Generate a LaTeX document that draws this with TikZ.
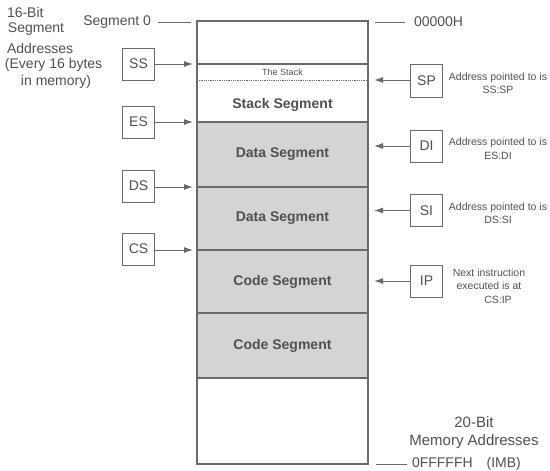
\documentclass[tikz,border=0pt]{standalone}
\usepackage{fontspec}
\setmainfont{Liberation Sans}
\usetikzlibrary{arrows.meta}
\definecolor{ink}{HTML}{505050}
\definecolor{edge}{HTML}{6A6A6A}
\definecolor{shade}{HTML}{D4D4D4}
\begin{document}
\begin{tikzpicture}[x=1pt,y=-1pt,
  every node/.style={text=ink, font=\fontsize{14}{16}\selectfont, inner sep=0pt, outer sep=0pt},
  segbox/.style={minimum width=171pt, anchor=north, font=\fontsize{14}{16}\selectfont\bfseries},
  regbox/.style={draw=edge, line width=1pt, minimum width=32pt, minimum height=32pt},
  note/.style={font=\fontsize{10.5}{13.5}\selectfont, align=center},
  frame/.style={draw=edge, line width=1.2pt},
  arr/.style={draw=edge, line width=1pt, -{Latex[length=9pt,width=6pt]}},
  tick/.style={draw=edge, line width=1pt}]
\useasboundingbox (0,0) rectangle (550,471);
% memory segments
\node[segbox, minimum height=43pt] (m0) at (282.5,21) {};
\node[segbox, minimum height=16pt, font=\fontsize{9}{10}\selectfont] (stk) at (282.5,64) {The Stack};
\node[segbox, minimum height=42pt] (sseg) at (282.5,80) {};
\node at ([yshift=-4pt]sseg.center) (ssegt) {\bfseries Stack Segment};
\node[segbox, minimum height=65pt, fill=shade] (d1) at (282.5,122) {Data Segment};
\node[segbox, minimum height=63pt, fill=shade] (d2) at (282.5,187) {Data Segment};
\node[segbox, minimum height=63pt, fill=shade] (c1) at (282.5,250) {Code Segment};
\node[segbox, minimum height=65pt, fill=shade] (c2) at (282.5,313) {Code Segment};
\node[segbox, minimum height=86pt] (mb) at (282.5,378) {};
% frame and boundaries
\draw[frame] (m0.north west) rectangle (mb.south east);
\draw[frame] (stk.north west) -- (stk.north east);
\draw[edge, line width=0.8pt, densely dotted] (stk.south west) -- (stk.south east);
\foreach \s in {d1,d2,c1,c2,mb} \draw[frame] (\s.north west) -- (\s.north east);
% left labels
\node[anchor=west] (l1) at (7,12) {16-Bit};
\node[anchor=west] (l2) at (8,29) {Segment};
\node[anchor=west] (l3) at (7,48) {Addresses};
\node[anchor=west] (l4) at (5,65) {(Every 16 bytes};
\node (l5) at (56,82) {in memory)};
\node[anchor=east] (seg0) at (151,22) {Segment 0};
\coordinate (seg0e) at (191,22);
\draw[tick] ([xshift=7pt]seg0.east) -- (seg0e);
\node[anchor=west] (a0) at (414,22) {00000H};
\coordinate (a0s) at (375,22);
\draw[tick] (a0s) -- ([xshift=-9pt]a0.west);
% left registers
\node[regbox] (ss) at (138.5,64) {SS};
\node[regbox] (es) at (138.5,122) {ES};
\node[regbox] (ds) at (138.5,186) {DS};
\node[regbox] (cs) at (138.5,249) {CS};
\draw[arr, shorten >=4pt] (ss.east |- stk.north west) -- (stk.north west);
\draw[arr, shorten >=4pt] (es.east |- d1.north west) -- (d1.north west);
\draw[arr, shorten >=4pt] (ds.east |- d2.north west) -- (d2.north west);
\draw[arr, shorten >=4pt] (cs.east |- c1.north west) -- (c1.north west);
% right registers
\node[regbox, minimum height=33pt] (sp) at (426.5,80.5) {SP};
\node[regbox] (di) at (426.5,146) {DI};
\node[regbox] (si) at (426.5,210.5) {SI};
\node[regbox] (ip) at (426.5,281) {IP};
\draw[arr, shorten >=6pt] (sp.west |- stk.south east) -- (stk.south east);
\draw[arr, shorten >=6pt] (di.west) -- (di.west -| d1.east);
\draw[arr, shorten >=6pt] (si.west) -- (si.west -| d2.east);
\draw[arr, shorten >=6pt] (ip.west) -- (ip.west -| c1.east);
% notes
\node[note] (nsp) at (498,83) {Address pointed to is\\SS:SP};
\node[note] (ndi) at (498,148.5) {Address pointed to is\\ES:DI};
\node[note] (nsi) at (498,213) {Address pointed to is\\DS:SI};
\node[note] (nip) at (489,286) {Next instruction\\executed is at\\\hspace*{18pt}CS:IP};
% bottom
\node[align=center, font=\fontsize{15}{18}\selectfont] (b20) at (474,433) {20-Bit\\Memory Addresses};
\node[anchor=west] (af) at (412,464) {0FFFFFH\hspace{14pt}(IMB)};
\coordinate (afs) at (376,464);
\draw[tick] (afs) -- ([xshift=-5pt]af.west);
\end{tikzpicture}
\end{document}
